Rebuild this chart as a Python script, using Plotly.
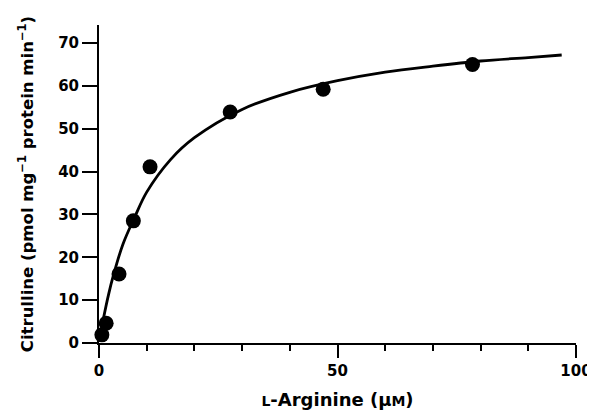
import plotly.graph_objects as go

# Measured points
arginine = [0.6, 1.5, 4.2, 7.2, 10.7, 27.5, 47.0, 78.3]
citrulline = [1.9, 4.6, 16.1, 28.5, 41.1, 53.9, 59.2, 65.0]

# Fitted curve
curve_x = [0.3, 1, 2, 3, 5, 7.5, 10, 15, 20, 30, 40, 50, 60, 70, 80, 90, 97]
curve_y = [2.0, 6.1, 11.3, 15.7, 23.0, 29.4, 35.2, 42.8, 47.9, 54.5, 58.5, 61.2, 63.2, 64.6, 65.8, 66.6, 67.2]

x_ticks = [0, 50, 100]
y_ticks = [0, 10, 20, 30, 40, 50, 60, 70]

fig = go.Figure()
fig.add_trace(go.Scatter(x=curve_x, y=curve_y, mode="lines",
                         line=dict(color="black", width=2.8, shape="spline"),
                         cliponaxis=False, hoverinfo="skip"))
fig.add_trace(go.Scatter(x=arginine, y=citrulline, mode="markers",
                         marker=dict(color="black", size=15),
                         cliponaxis=False))

font_family = "DejaVu Sans, Liberation Sans, Arial, sans-serif"

# page body has an 8px margin, so the figure is offset by 8px
fig.update_layout(
    width=587, height=407,
    margin=dict(l=91, r=19, t=17, b=72, autoexpand=False),
    plot_bgcolor="white", paper_bgcolor="white",
    showlegend=False,
    font=dict(family=font_family, color="black"),
    xaxis=dict(
        range=[0, 100], tickvals=x_ticks, ticktext=[str(v) for v in x_ticks],
        automargin=False, ticklabeloverflow="allow",
        showline=True, linecolor="black", linewidth=2,
        ticks="outside", ticklen=13, tickwidth=2, tickcolor="black",
        minor=dict(dtick=10, ticks="outside", ticklen=6, tickwidth=2, tickcolor="black", showgrid=False),
        showgrid=False, zeroline=False,
        tickfont=dict(size=15, family=font_family, weight="bold"),
        title=dict(text="<span style='font-size:14px'>L</span>-Arginine (µ<span style='font-size:14px'>M</span>)",
                   font=dict(size=18, family=font_family, weight="bold"), standoff=14),
    ),
    yaxis=dict(
        range=[0, 74.2], tickvals=y_ticks,
        automargin=False, ticklabeloverflow="allow",
        showline=True, linecolor="black", linewidth=2,
        ticks="outside", ticklen=15, tickwidth=2, tickcolor="black",
        showgrid=False, zeroline=False,
        tickfont=dict(size=15, family=font_family, weight="bold"),
        title=dict(text="Citrulline (pmol mg<sup>−1</sup> protein min<sup>−1</sup>)",
                   font=dict(size=16.5, family=font_family, weight="bold"), standoff=20),
    ),
)

fig.write_html("out.html")
